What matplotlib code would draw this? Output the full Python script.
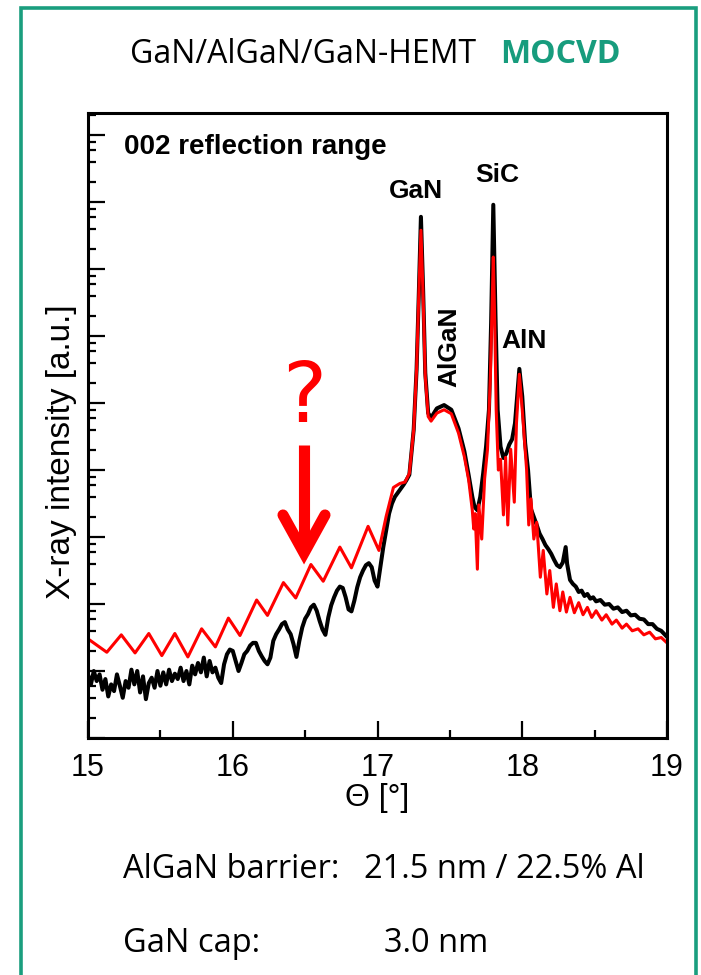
import numpy as np
import matplotlib
matplotlib.use("Agg")
import matplotlib.pyplot as plt
from matplotlib.patches import Rectangle
from matplotlib.ticker import LogLocator, MultipleLocator, NullFormatter

# theta in degrees, intensity as log10 (a.u.)
red_theta = [15.00, 15.13, 15.23, 15.325, 15.42, 15.51, 15.60, 15.69, 15.785, 15.88,
             15.97, 16.05, 16.165, 16.24, 16.35, 16.435, 16.54, 16.625, 16.74, 16.82,
             16.935, 17.01, 17.06, 17.11, 17.155, 17.19, 17.22, 17.25, 17.27, 17.285,
             17.30, 17.315, 17.33, 17.35, 17.37, 17.41, 17.46, 17.51, 17.56, 17.60,
             17.63, 17.655, 17.665, 17.675, 17.69, 17.70, 17.72, 17.74, 17.76, 17.78,
             17.79, 17.80, 17.81, 17.82, 17.835, 17.85, 17.87, 17.885, 17.90, 17.92,
             17.945, 17.96, 17.98, 18.00, 18.03, 18.045, 18.06, 18.08, 18.10, 18.125,
             18.145, 18.17, 18.19, 18.215, 18.235, 18.26, 18.28, 18.305, 18.33, 18.36,
             18.39, 18.42, 18.45, 18.48, 18.51, 18.55, 18.58, 18.62, 18.65, 18.69,
             18.72, 18.76, 18.80, 18.84, 18.88, 18.92, 18.96, 19.00]
red_log = [1.48, 1.28, 1.54, 1.27, 1.56, 1.23, 1.56, 1.21, 1.63, 1.36,
           1.79, 1.53, 2.06, 1.83, 2.32, 2.09, 2.59, 2.34, 2.85, 2.54,
           3.16, 2.80, 3.31, 3.74, 3.80, 3.82, 3.95, 4.60, 5.50, 6.60,
           7.58, 6.60, 5.40, 4.80, 4.73, 4.85, 4.90, 4.84, 4.55, 4.20,
           3.85, 3.40, 3.12, 3.35, 2.52, 3.48, 2.97, 3.87, 4.31, 5.40,
           6.30, 7.18, 6.20, 4.90, 4.00, 4.16, 3.33, 4.19, 3.18, 4.31,
           3.52, 4.70, 5.43, 4.90, 4.01, 3.18, 3.57, 2.97, 3.22, 2.40,
           2.80, 2.15, 2.50, 1.95, 2.30, 1.90, 2.18, 1.88, 2.10, 1.87,
           2.02, 1.84, 1.95, 1.80, 1.90, 1.76, 1.84, 1.70, 1.76, 1.64,
           1.70, 1.60, 1.63, 1.54, 1.58, 1.48, 1.50, 1.42]

black_theta = [15.00, 15.02, 15.04, 15.06, 15.08, 15.10, 15.12, 15.14, 15.16, 15.18,
               15.20, 15.22, 15.24, 15.26, 15.28, 15.30, 15.32, 15.34, 15.36, 15.38,
               15.40, 15.42, 15.44, 15.46, 15.48, 15.50, 15.52, 15.54, 15.56, 15.58,
               15.60, 15.62, 15.64, 15.66, 15.68, 15.70, 15.72, 15.74, 15.76, 15.78,
               15.80, 15.82, 15.84, 15.86, 15.88, 15.90, 15.92, 15.94, 15.96, 15.98,
               16.00, 16.02, 16.04, 16.06, 16.08, 16.10, 16.12, 16.14, 16.16, 16.18,
               16.20, 16.22, 16.24, 16.26, 16.28, 16.30, 16.32, 16.34, 16.36, 16.38,
               16.40, 16.42, 16.44, 16.46, 16.48, 16.50, 16.52, 16.54, 16.56, 16.58,
               16.60, 16.62, 16.64, 16.66, 16.68, 16.70, 16.72, 16.74, 16.76, 16.78,
               16.80, 16.82, 16.84, 16.86, 16.88, 16.90, 16.92, 16.94, 16.96, 16.98,
               17.00, 17.02, 17.04, 17.06, 17.08, 17.10, 17.12, 17.14, 17.16, 17.18,
               17.20, 17.22, 17.25, 17.27, 17.285, 17.30, 17.315, 17.33, 17.35, 17.37,
               17.41, 17.46, 17.51, 17.56, 17.60, 17.63, 17.655, 17.67, 17.69, 17.71,
               17.73, 17.75, 17.77, 17.785, 17.80, 17.815, 17.83, 17.85, 17.87, 17.89,
               17.91, 17.93, 17.95, 17.965, 17.98, 18.00, 18.02, 18.04, 18.06, 18.08,
               18.10, 18.12, 18.14, 18.16, 18.18, 18.20, 18.22, 18.24, 18.26, 18.28,
               18.30, 18.31, 18.33, 18.35, 18.37, 18.39, 18.41, 18.43, 18.45, 18.47,
               18.49, 18.51, 18.54, 18.57, 18.60, 18.63, 18.66, 18.69, 18.72, 18.75,
               18.78, 18.81, 18.84, 18.87, 18.90, 18.93, 18.96, 19.00]
black_log = [0.95, 0.80, 1.00, 0.85, 0.95, 0.72, 0.88, 0.62, 0.80, 0.70,
             0.95, 0.78, 0.60, 0.85, 0.75, 1.02, 0.80, 1.00, 0.68, 0.92,
             0.58, 0.82, 0.90, 0.75, 1.00, 0.78, 0.98, 0.80, 1.02, 0.85,
             0.96, 0.88, 1.05, 0.85, 1.00, 0.80, 1.08, 0.95, 1.12, 0.98,
             1.20, 0.92, 1.15, 0.98, 1.05, 0.90, 0.82, 1.10, 1.25, 1.32,
             1.30, 1.15, 1.00, 1.12, 1.25, 1.30, 1.38, 1.42, 1.42, 1.30,
             1.22, 1.15, 1.10, 1.20, 1.45, 1.55, 1.62, 1.70, 1.73, 1.62,
             1.55, 1.40, 1.21, 1.45, 1.65, 1.78, 1.85, 1.95, 1.99, 1.90,
             1.75, 1.62, 1.54, 1.80, 1.98, 2.10, 2.20, 2.26, 2.24, 2.10,
             1.92, 1.89, 2.05, 2.25, 2.40, 2.50, 2.58, 2.61, 2.55, 2.35,
             2.26, 2.55, 2.85, 3.10, 3.35, 3.50, 3.60, 3.66, 3.72, 3.78,
             3.85, 3.93, 4.60, 5.50, 6.60, 7.78, 6.70, 5.45, 4.85, 4.78,
             4.92, 4.97, 4.90, 4.62, 4.28, 3.92, 3.60, 3.45, 3.40, 3.60,
             3.95, 4.35, 4.90, 6.20, 7.96, 6.30, 4.90, 4.35, 4.18, 4.25,
             4.38, 4.46, 4.70, 5.10, 5.51, 5.10, 4.40, 4.00, 3.42, 3.30,
             3.18, 3.05, 2.97, 2.88, 2.82, 2.75, 2.66, 2.58, 2.55, 2.62,
             2.85, 2.60, 2.36, 2.30, 2.26, 2.18, 2.20, 2.12, 2.15, 2.08,
             2.10, 2.04, 2.06, 1.99, 2.00, 1.93, 1.95, 1.88, 1.90, 1.83,
             1.84, 1.78, 1.77, 1.70, 1.70, 1.63, 1.60, 1.51]

x_ticks = [15, 16, 17, 18, 19]
peak_names = ["GaN", "SiC", "AlN"]

plt.rcParams['font.family'] = ['Liberation Sans', 'DejaVu Sans']
W, H = 701.0, 975.0
fig = plt.figure(figsize=(7.01, 9.75), dpi=100)

# green frame around everything
frame = Rectangle((21 / W, -0.02), (696 - 21) / W, 1 - 8 / H + 0.02,
                  transform=fig.transFigure, fill=False, ec='#1A9E7E', lw=2.6)
fig.add_artist(frame)

fig.text(476 / W, 1 - 63 / H, "GaN/AlGaN/GaN-HEMT", ha='right', va='baseline',
         fontsize=23, family='Open Sans')
fig.text(500 / W, 1 - 63 / H, "MOCVD", ha='left', va='baseline', fontsize=23,
         family='Open Sans', weight='bold', color='#179C7D')

ax = fig.add_axes([88 / W, 1 - 738 / H, (667 - 88) / W, (738 - 113) / H])
ax.plot(black_theta, 10.0 ** np.array(black_log), color='black', lw=2.9,
        solid_joinstyle='round')
ax.plot(red_theta, 10.0 ** np.array(red_log), color='#ff0000', lw=2.2,
        solid_joinstyle='round')

ax.set_yscale('log')
ax.set_xlim(15, 19)
ax.set_ylim(1, 10 ** 9.33)
ax.yaxis.set_major_locator(LogLocator(base=10, numticks=20))
ax.yaxis.set_minor_locator(LogLocator(base=10, subs=(2, 4, 6, 8), numticks=20))
ax.yaxis.set_major_formatter(NullFormatter())
ax.yaxis.set_minor_formatter(NullFormatter())
ax.set_xticks(x_ticks)
ax.xaxis.set_minor_locator(MultipleLocator(0.5))
ax.tick_params(which='both', direction='in', top=False, right=False)
ax.tick_params(which='major', length=12, width=1.6, labelsize=22, pad=11)
ax.tick_params(which='minor', length=6, width=1.6)
for s in ax.spines.values():
    s.set_linewidth(2.2)

ax.set_xlabel("Θ [°]", fontsize=23, labelpad=0)
fig.text(62 / W, 1 - 452 / H, "X-ray intensity [a.u.]", rotation=90,
         ha='center', va='center', fontsize=24)

ax.text(0.062, 0.9456, "002 reflection range", transform=ax.transAxes,
        fontsize=20, weight='bold', ha='left', va='center')
ax.text(0.5656, 0.8752, peak_names[0], transform=ax.transAxes, fontsize=19,
        weight='bold', ha='center', va='center')
ax.text(0.7064, 0.9008, peak_names[1], transform=ax.transAxes, fontsize=19,
        weight='bold', ha='center', va='center')
ax.text(0.7539, 0.6352, peak_names[2], transform=ax.transAxes, fontsize=19,
        weight='bold', ha='center', va='center')
ax.text(0.6235, 0.6256, "AlGaN", transform=ax.transAxes, fontsize=19,
        weight='bold', ha='center', va='center', rotation=90)

# red question mark and arrow
ax.text(0.373, 0.5056, "?", transform=ax.transAxes, fontsize=60,
        color='#ff0000', ha='center', va='baseline', family='DejaVu Sans')
ax.plot([0.3731, 0.3731], [0.4688, 0.31], transform=ax.transAxes,
        color='#ff0000', lw=8, solid_capstyle='butt')
ax.plot([0.3368, 0.3731, 0.4093], [0.3568, 0.296, 0.3568], transform=ax.transAxes,
        color='#ff0000', lw=8, solid_capstyle='round', solid_joinstyle='miter')

fig.text(123 / W, 1 - 878 / H, "AlGaN barrier:", ha='left', va='baseline',
         fontsize=23.5, family='Open Sans')
fig.text(364 / W, 1 - 878 / H, "21.5 nm / 22.5% Al", ha='left', va='baseline',
         fontsize=23.5, family='Open Sans')
fig.text(123 / W, 1 - 952 / H, "GaN cap:", ha='left', va='baseline',
         fontsize=23.5, family='Open Sans')
fig.text(384 / W, 1 - 952 / H, "3.0 nm", ha='left', va='baseline',
         fontsize=23.5, family='Open Sans')

fig.savefig("out.png", dpi=100)
